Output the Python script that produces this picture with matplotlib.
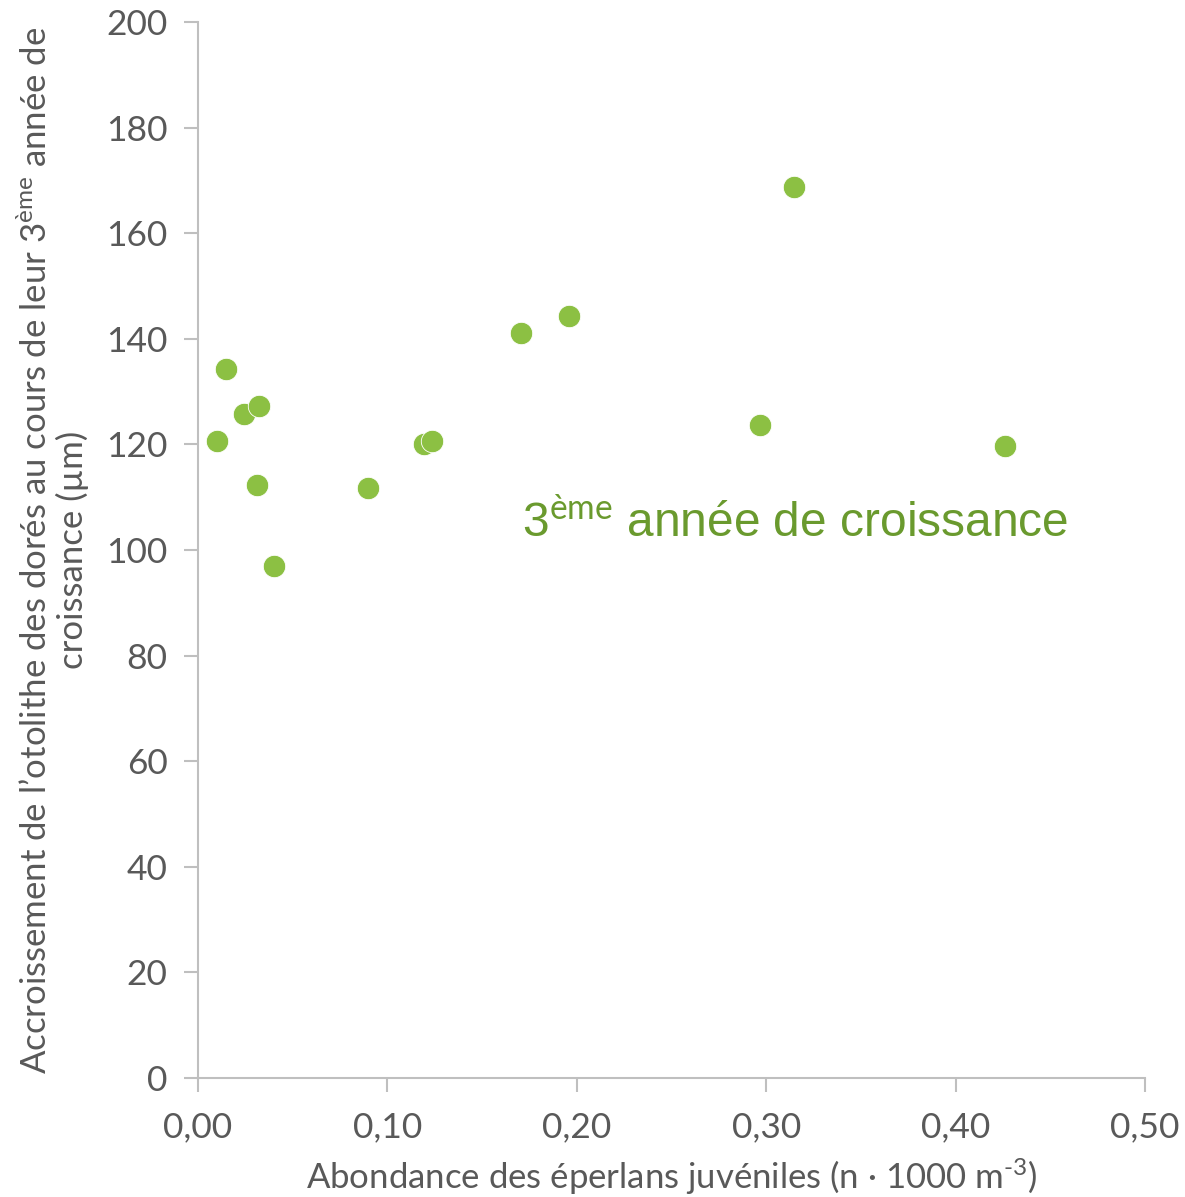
import matplotlib
matplotlib.use("Agg")
import matplotlib.pyplot as plt
from matplotlib.ticker import FuncFormatter

plt.rcParams['font.family'] = ['Lato', 'DejaVu Sans']
plt.rcParams['mathtext.fontset'] = 'custom'
plt.rcParams['mathtext.rm'] = 'Lato'
plt.rcParams['mathtext.it'] = 'Lato:italic'

abondance = [0.010, 0.0148, 0.0243, 0.0322, 0.0312, 0.0401, 0.0898, 0.1193, 0.1235,
             0.1705, 0.1959, 0.2967, 0.3147, 0.4261]
accroissement = [120.6, 134.3, 125.8, 127.3, 112.3, 97.0, 111.7, 120.1, 120.6,
                 141.1, 144.3, 123.7, 168.8, 119.7]
xticks = [0.0, 0.1, 0.2, 0.3, 0.4, 0.5]
yticks = [0, 20, 40, 60, 80, 100, 120, 140, 160, 180, 200]

fig = plt.figure(figsize=(11.85, 11.97), dpi=100)
ax = fig.add_axes([0.1671, 0.0994, 0.7991, 0.8822])

ax.scatter(abondance, accroissement, s=260, color='#8CC043', edgecolors='white',
           linewidths=0.6, zorder=3, clip_on=False)

ax.set_xlim(0, 0.5)
ax.set_ylim(0, 200)
ax.set_xticks(xticks)
ax.set_yticks(yticks)
ax.xaxis.set_major_formatter(FuncFormatter(lambda v, p: f"{v:.2f}".replace('.', ',')))

axis_col = '#BFBFBF'
text_col = '#595959'
for side in ['top', 'right']:
    ax.spines[side].set_visible(False)
for side in ['left', 'bottom']:
    ax.spines[side].set_color(axis_col)
    ax.spines[side].set_linewidth(1.5)
ax.tick_params(axis='both', colors=axis_col, width=1.5, length=10, labelcolor=text_col,
               labelsize=25.5)
ax.tick_params(axis='x', pad=14)
ax.tick_params(axis='y', pad=12)

ax.set_xlabel("Abondance des éperlans juvéniles (n · 1000 m$^{\u2010\\mathrm{3}}$)", fontsize=25,
              color=text_col, labelpad=10)
ax.set_ylabel("Accroissement de l’otolithe des dorés au cours de leur 3$^{\\mathrm{ème}}$ année de\ncroissance (µm)",
              fontsize=25, color=text_col, labelpad=12, linespacing=1.1)

ax.text(0.171, 102.5, "3$^{\\mathrm{ème}}$ année de croissance", fontsize=34.5,
        color='#6A9A2E', family=['Liberation Sans', 'DejaVu Sans'], ha='left', va='baseline')

fig.savefig("out.png", dpi=100)
